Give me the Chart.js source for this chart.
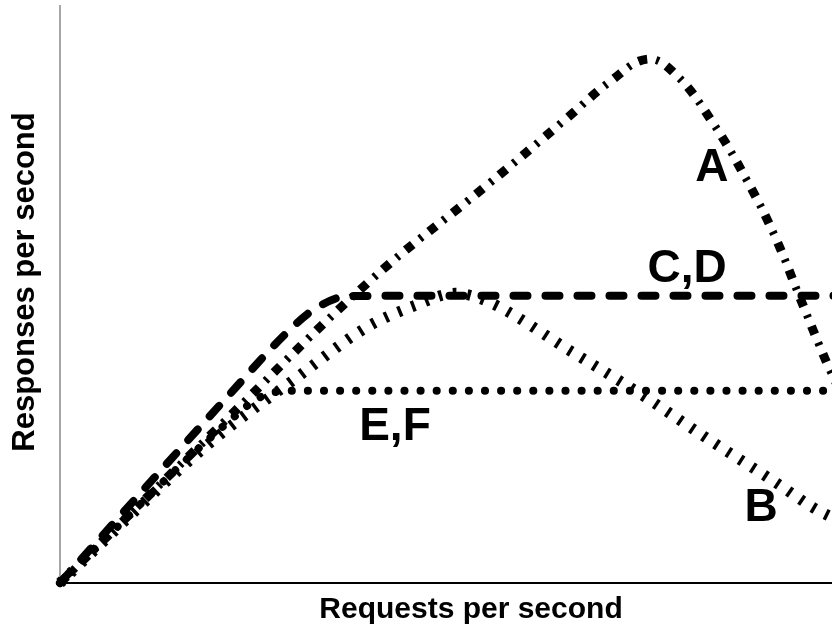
<!DOCTYPE html>
<html>
<head>
<meta charset="utf-8">
<script src="https://cdn.jsdelivr.net/npm/chart.js@4.4.1/dist/chart.umd.min.js"></script>
<style>
	html, body { margin: 0; padding: 0; background: #fff; }
	/* the original picture is cropped on the right, so the canvas is wider than the window */
	#wrap { width: 832px; height: 632px; overflow: hidden; position: relative; }
	#box { width: 882px; height: 632px; position: absolute; left: 0; top: 0; }
</style>
</head>
<body>
<div id="wrap"><div id="box"><canvas id="loadChart"></canvas></div></div>
<script>
// curve points as [requests, responses] (arbitrary units, 0-100)
const curveA = [[0, 0], [19.5, 27.3], [37.5, 52.1], [52, 69], [61.7, 80.6], [67, 87], [71.5, 90.8],
	[75, 88], [79.4, 79.8], [83.6, 69.7], [87, 60], [90, 49.5], [93.3, 38.1], [95, 33]];
const curveB = [[0, 0], [18, 24], [28.8, 35.6], [37.3, 44.3], [43, 48], [48.1, 50.2], [52, 48.8],
	[62, 40.3], [70.9, 32.5], [79.1, 24.7], [87.2, 17.3], [91.6, 13.1], [95, 10.6]];
const curveCD = [[0, 0], [20, 31.7], [27.6, 43.4], [31, 47.5], [35, 49.7], [45, 49.8], [100, 49.8]];
const curveEF = [[0, 0], [20.7, 28.2], [24.5, 32.3], [28, 33.3], [100, 33.3]];

const curveLabels = ['A', 'C,D', 'E,F', 'B'];
const labelAt = [[79.3, 69.6], [76.3, 52.1], [40.75, 24.7], [85.3, 10.7]];
const yTitle = 'Responses per second';
const xTitle = 'Requests per second';

const toPoints = (arr) => arr.map(p => ({ x: p[0], y: p[1] }));

// writes the curve names next to the lines
const curveLabelPlugin = {
	id: 'curveLabels',
	afterDatasetsDraw(chart) {
		const ctx = chart.ctx;
		const xs = chart.scales.x, ys = chart.scales.y;
		ctx.save();
		ctx.fillStyle = '#000';
		ctx.font = 'bold 46px "Liberation Sans", Arial, sans-serif';
		ctx.textAlign = 'center';
		ctx.textBaseline = 'alphabetic';
		curveLabels.forEach((txt, i) => {
			ctx.fillText(txt, xs.getPixelForValue(labelAt[i][0]), ys.getPixelForValue(labelAt[i][1]));
		});
		ctx.restore();
	}
};

// the vertical axis title sits a bit above the middle of the plot in the original
const yTitlePlugin = {
	id: 'yTitle',
	afterDraw(chart) {
		const ctx = chart.ctx;
		ctx.save();
		ctx.translate(25, 282);
		ctx.rotate(-Math.PI / 2);
		ctx.fillStyle = '#000';
		ctx.font = 'bold 31px "Liberation Sans", Arial, sans-serif';
		ctx.textAlign = 'center';
		ctx.textBaseline = 'middle';
		ctx.fillText(yTitle, 0, 0);
		ctx.restore();
	}
};

const common = { borderColor: '#000', backgroundColor: '#000', pointRadius: 0, fill: false, clip: false };

new Chart(document.getElementById('loadChart'), {
	type: 'line',
	data: {
		datasets: [
			// A: square blocks ...
			Object.assign({}, common, {
				data: toPoints(curveA), borderWidth: 9, borderDash: [9, 21], tension: 0.4
			}),
			// ... with thin ticks between them
			Object.assign({}, common, {
				data: toPoints(curveA), borderWidth: 8, borderDash: [0, 18, 3, 9], tension: 0.4
			}),
			Object.assign({}, common, {
				data: toPoints(curveB), borderWidth: 11, borderDash: [3.5, 11], cubicInterpolationMode: 'monotone'
			}),
			Object.assign({}, common, {
				data: toPoints(curveCD), borderWidth: 8, borderDash: [14, 18], borderCapStyle: 'round',
				cubicInterpolationMode: 'monotone'
			}),
			Object.assign({}, common, {
				data: toPoints(curveEF), borderWidth: 8, borderDash: [0.1, 16], borderCapStyle: 'round',
				cubicInterpolationMode: 'monotone'
			}),
		]
	},
	options: {
		responsive: true,
		maintainAspectRatio: false,
		animation: false,
		layout: { padding: { top: 6, left: 60, right: 0, bottom: 0 } },
		plugins: {
			legend: { display: false },
			tooltip: { enabled: false }
		},
		scales: {
			x: {
				type: 'linear', min: 0, max: 100,
				grid: { display: false, drawTicks: false },
				ticks: { display: false },
				border: { display: true, color: '#000', width: 2 },
				title: {
					display: true, text: xTitle, color: '#000',
					font: { family: '"Liberation Sans", Arial, sans-serif', size: 30, weight: 'bold', lineHeight: 1.2 },
					padding: { top: 9, bottom: 4 }
				}
			},
			y: {
				type: 'linear', min: 0, max: 100,
				grid: { display: false, drawTicks: false },
				ticks: { display: false },
				border: { display: true, color: '#a6a6a6', width: 2 },
				title: { display: false }
			}
		}
	},
	plugins: [curveLabelPlugin, yTitlePlugin]
});
</script>
</body>
</html>
